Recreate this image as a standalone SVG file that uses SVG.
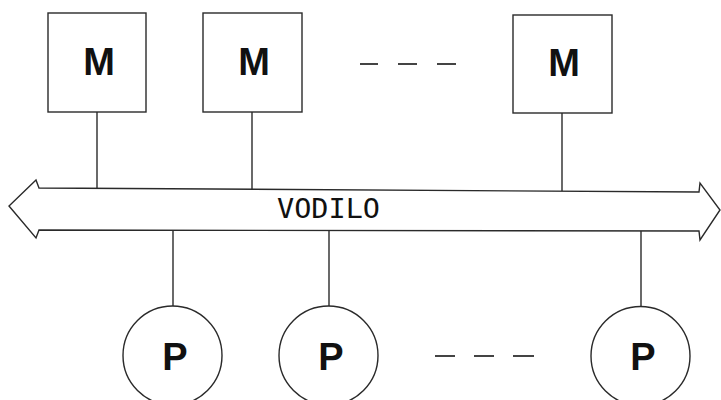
<svg xmlns="http://www.w3.org/2000/svg" width="721" height="400" viewBox="0 0 721 400">
<style>
.s{fill:none;stroke:#2a2a2a;stroke-width:1.4}
.box{fill:#fff;stroke:#2a2a2a;stroke-width:1.4}
.lbl{font-family:"Liberation Sans",Arial,sans-serif;font-weight:bold;font-size:38px;fill:#111;text-anchor:middle}
.bus{font-family:"DejaVu Sans Mono","Liberation Mono",monospace;font-size:27px;fill:#111}
.d{stroke:#444;stroke-width:2;fill:none}
</style>
<rect width="721" height="400" fill="#fff"/>
<g id="connectors">
<line class="s" x1="97" y1="112" x2="97" y2="189"/>
<line class="s" x1="252" y1="112" x2="252" y2="190"/>
<line class="s" x1="562" y1="113" x2="562" y2="191"/>
<line class="s" x1="173" y1="230" x2="173" y2="306"/>
<line class="s" x1="329" y1="230" x2="329" y2="306"/>
<line class="s" x1="641" y1="231" x2="641" y2="307"/>
</g>
<g id="bus">
<path class="s" d="M39,188 L699,192 L700,183 L720,210 L700,240 L699,231 L39,230 L36,238 L9,206 L36,180 Z" fill="#fff"/>
<text class="bus" x="277" y="218" textLength="103" lengthAdjust="spacingAndGlyphs">VODILO</text>
</g>
<g id="m1"><rect class="box" x="48" y="13" width="98" height="99"/><text class="lbl" x="99" y="75">M</text></g>
<g id="m2"><rect class="box" x="203" y="13" width="99" height="99"/><text class="lbl" x="254" y="75">M</text></g>
<g id="m3"><rect class="box" x="513" y="15" width="99" height="98"/><text class="lbl" x="564" y="76">M</text></g>
<g id="dots-top">
<line class="d" x1="360" y1="64" x2="378" y2="64"/>
<line class="d" x1="398" y1="64" x2="417" y2="64"/>
<line class="d" x1="437" y1="64" x2="456" y2="64"/>
</g>
<g id="p1"><circle class="box" cx="172.5" cy="355.5" r="49.5"/><text class="lbl" x="175" y="370">P</text></g>
<g id="p2"><circle class="box" cx="328.5" cy="355.5" r="49.5"/><text class="lbl" x="331" y="370">P</text></g>
<g id="p3"><circle class="box" cx="640.5" cy="356" r="49.5"/><text class="lbl" x="643" y="370">P</text></g>
<g id="dots-bottom">
<line class="d" x1="435" y1="356" x2="455" y2="356"/>
<line class="d" x1="474" y1="356" x2="494" y2="356"/>
<line class="d" x1="513" y1="356" x2="534" y2="356"/>
</g>
</svg>
